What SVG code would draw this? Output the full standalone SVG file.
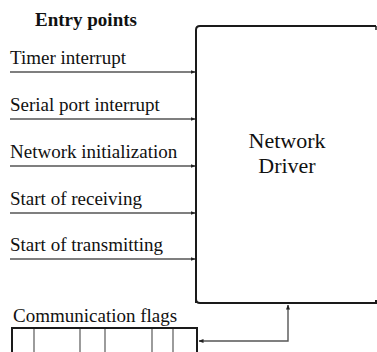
<svg xmlns="http://www.w3.org/2000/svg" width="377" height="352" viewBox="0 0 377 352">
  <style>
    .lbl { font-family: "Liberation Serif", "Times New Roman", serif; font-size: 19px; fill: #111; }
    .head { font-family: "Liberation Serif", "Times New Roman", serif; font-size: 19px; font-weight: bold; fill: #111; }
    .big { font-family: "Liberation Serif", "Times New Roman", serif; font-size: 22px; fill: #111; text-anchor: middle; }
    .edge { fill: none; stroke: #555; stroke-width: 1.4; }
    .frame { fill: none; stroke: #1a1a1a; stroke-width: 2; }
    .cell { stroke: #666; stroke-width: 1.3; }
  </style>
  <defs>
    <marker id="arrow" viewBox="0 0 10 10" refX="9" refY="5" markerWidth="5" markerHeight="5" orient="auto-start-reverse" markerUnits="userSpaceOnUse">
      <path d="M0,1 L10,5 L0,9 z" fill="#222"/>
    </marker>
  </defs>

  <rect width="377" height="352" fill="#fff"/>

  <text class="head" x="86" y="26" text-anchor="middle">Entry points</text>

  <!-- driver block -->
  <g id="driver">
    <path class="frame" d="M196,303 V30 Q196,26 200,26 H376 M196,299 Q196,303 200,303 H376 V300"/>
    <path d="M376,26 V30" stroke="#1a1a1a" stroke-width="1.5"/>
    <text class="big" x="287" y="148">Network</text>
    <text class="big" x="287" y="173">Driver</text>
  </g>

  <!-- entry points -->
  <g id="timer"><text class="lbl" x="10" y="64">Timer interrupt</text></g>
  <g id="serial"><text class="lbl" x="10" y="111">Serial port interrupt</text></g>
  <g id="netinit"><text class="lbl" x="10" y="158">Network initialization</text></g>
  <g id="rx"><text class="lbl" x="10" y="205">Start of receiving</text></g>
  <g id="tx"><text class="lbl" x="10" y="251">Start of transmitting</text></g>

  <!-- flag table -->
  <g id="flags">
    <text class="lbl" x="13" y="322">Communication flags</text>
    <line class="cell" x1="34" y1="328" x2="34" y2="352"/>
    <line class="cell" x1="80" y1="328" x2="80" y2="352"/>
    <line class="cell" x1="105" y1="328" x2="105" y2="352"/>
    <line class="cell" x1="152" y1="328" x2="152" y2="352"/>
    <line class="cell" x1="173" y1="328" x2="173" y2="352"/>
    <path class="frame" d="M12,353 V328 H197 V353"/>
  </g>

  <!-- connectors -->
  <g id="connectors">
    <line class="edge" x1="10" y1="72" x2="195" y2="72" marker-end="url(#arrow)"/>
    <line class="edge" x1="10" y1="119" x2="195" y2="119" marker-end="url(#arrow)"/>
    <line class="edge" x1="10" y1="166" x2="195" y2="166" marker-end="url(#arrow)"/>
    <line class="edge" x1="10" y1="213" x2="195" y2="213" marker-end="url(#arrow)"/>
    <line class="edge" x1="10" y1="259" x2="195" y2="259" marker-end="url(#arrow)"/>
    <path class="edge" d="M288,305 V341 H199" marker-start="url(#arrow)" marker-end="url(#arrow)"/>
  </g>
</svg>
